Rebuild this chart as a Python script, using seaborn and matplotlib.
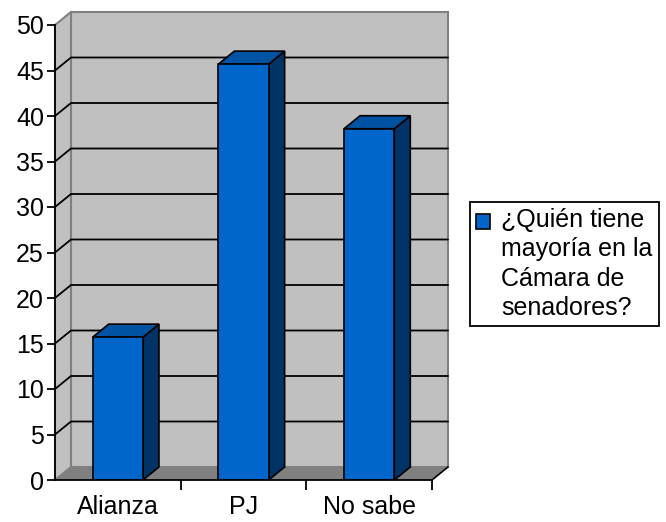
import matplotlib
matplotlib.use('Agg')
import matplotlib.pyplot as plt
import matplotlib.patches as mpatches
from matplotlib.legend_handler import HandlerPatch
import seaborn as sns

categories = ['Alianza', 'PJ', 'No sabe']
values = [15.7, 45.7, 38.6]
series_label = '¿Quién tiene\nmayoría en la\nCámara de\nsenadores?'
y_ticks = list(range(0, 55, 5))

FRONT = '#0066CC'
TOP = '#0052A3'
SIDE = '#003366'
WALL = '#C0C0C0'
FLOOR = '#808080'
FS = 18
LINESPACING = 1.27


class TopSquare(HandlerPatch):
    # put the legend swatch next to the first text line instead of the middle
    def create_artists(self, legend, orig_handle, xdescent, ydescent,
                       width, height, fontsize, trans):
        lift = 1.5 * 0.9 * LINESPACING * fontsize
        r = mpatches.Rectangle((-xdescent, -ydescent + lift), width, height,
                               facecolor=orig_handle.get_facecolor(),
                               edgecolor='black', lw=1.2, transform=trans)
        return [r]


sns.set_style('white')
plt.rcParams['font.family'] = ['Liberation Sans', 'DejaVu Sans']
plt.rcParams['text.color'] = 'black'
plt.rcParams['xtick.color'] = 'black'
plt.rcParams['ytick.color'] = 'black'
plt.rcParams['xtick.labelcolor'] = 'black'
plt.rcParams['ytick.labelcolor'] = 'black'

fig = plt.figure(figsize=(6.66, 5.22), dpi=100)
ax = fig.add_axes([55 / 666, 1 - 480 / 522, (432 - 55) / 666, (480 - 25) / 522])
ax.patch.set_visible(False)

sns.barplot(x=categories, y=values, color=FRONT, saturation=1, width=0.4,
            edgecolor='black', linewidth=1.2, ax=ax, zorder=3)
bars = list(ax.patches)

ax.set_xlim(-0.5, 2.5)
ax.set_ylim(0, 50)

# depth offset of the fake 3D box, data units
dx = 16 / (377 / 3)
dy = 13 / (455 / 50)

# walls and floor
ax.add_patch(mpatches.Rectangle((-0.5 + dx, dy), 3, 50, facecolor=WALL,
                                edgecolor=FLOOR, lw=1.5, clip_on=False, zorder=0))
ax.add_patch(mpatches.Polygon([(-0.5, 0), (-0.5 + dx, dy), (-0.5 + dx, 50 + dy), (-0.5, 50)],
                              closed=True, facecolor=WALL, edgecolor=FLOOR, lw=1.5,
                              clip_on=False, zorder=0))
ax.add_patch(mpatches.Polygon([(-0.5, 0), (2.5, 0), (2.5 + dx, dy), (-0.5 + dx, dy)],
                              closed=True, facecolor=FLOOR, edgecolor='none',
                              clip_on=False, zorder=0.6))
ax.plot([2.5, 2.5 + dx], [0, dy], color='black', lw=1.2, clip_on=False, zorder=0.7)

for v in y_ticks[1:-1]:
    ax.plot([-0.5, -0.5 + dx, 2.5 + dx], [v, v + dy, v + dy], color='black',
            lw=1.3, clip_on=False, zorder=0.5)

# side and top faces of each column
for p in bars:
    x0 = p.get_x()
    x1 = x0 + p.get_width()
    h = p.get_height()
    ax.add_patch(mpatches.Polygon([(x1, 0), (x1 + dx, dy), (x1 + dx, h + dy), (x1, h)],
                                  closed=True, facecolor=SIDE, edgecolor='black',
                                  lw=1.2, zorder=2.9))
    ax.add_patch(mpatches.Polygon([(x0, h), (x1, h), (x1 + dx, h + dy), (x0 + dx, h + dy)],
                                  closed=True, facecolor=TOP, edgecolor='black',
                                  lw=1.2, zorder=2.9, clip_on=False))

for s in ['top', 'right']:
    ax.spines[s].set_visible(False)
for s in ['left', 'bottom']:
    ax.spines[s].set_color('black')
    ax.spines[s].set_linewidth(1.3)
    ax.spines[s].set_zorder(4)

ax.set_yticks(y_ticks)
ax.tick_params(axis='y', left=True, length=6, width=1.3, pad=2, labelsize=FS)
ax.set_xticks([0.5, 1.5, 2.5], minor=True)
ax.tick_params(axis='x', which='major', length=0, pad=11, labelsize=FS)
ax.tick_params(axis='x', which='minor', bottom=True, length=7, width=1.3)
ax.set_xlabel('')
ax.set_ylabel('')

leg = ax.legend(handles=[mpatches.Patch(facecolor=FRONT, edgecolor='black')],
                labels=[series_label], handler_map={mpatches.Patch: TopSquare()},
                loc='upper left', bbox_to_anchor=(470 / 666, 1 - 202 / 522),
                bbox_transform=fig.transFigure, borderaxespad=0, frameon=True,
                fancybox=False, framealpha=1, edgecolor='black', fontsize=FS,
                handlelength=0.55, handleheight=0.55, handletextpad=0.45, borderpad=0.25)
leg.get_frame().set_linewidth(1.3)
for t in leg.get_texts():
    t.set_linespacing(LINESPACING)
    t.set_color('black')

fig.savefig('out.png', dpi=100)
